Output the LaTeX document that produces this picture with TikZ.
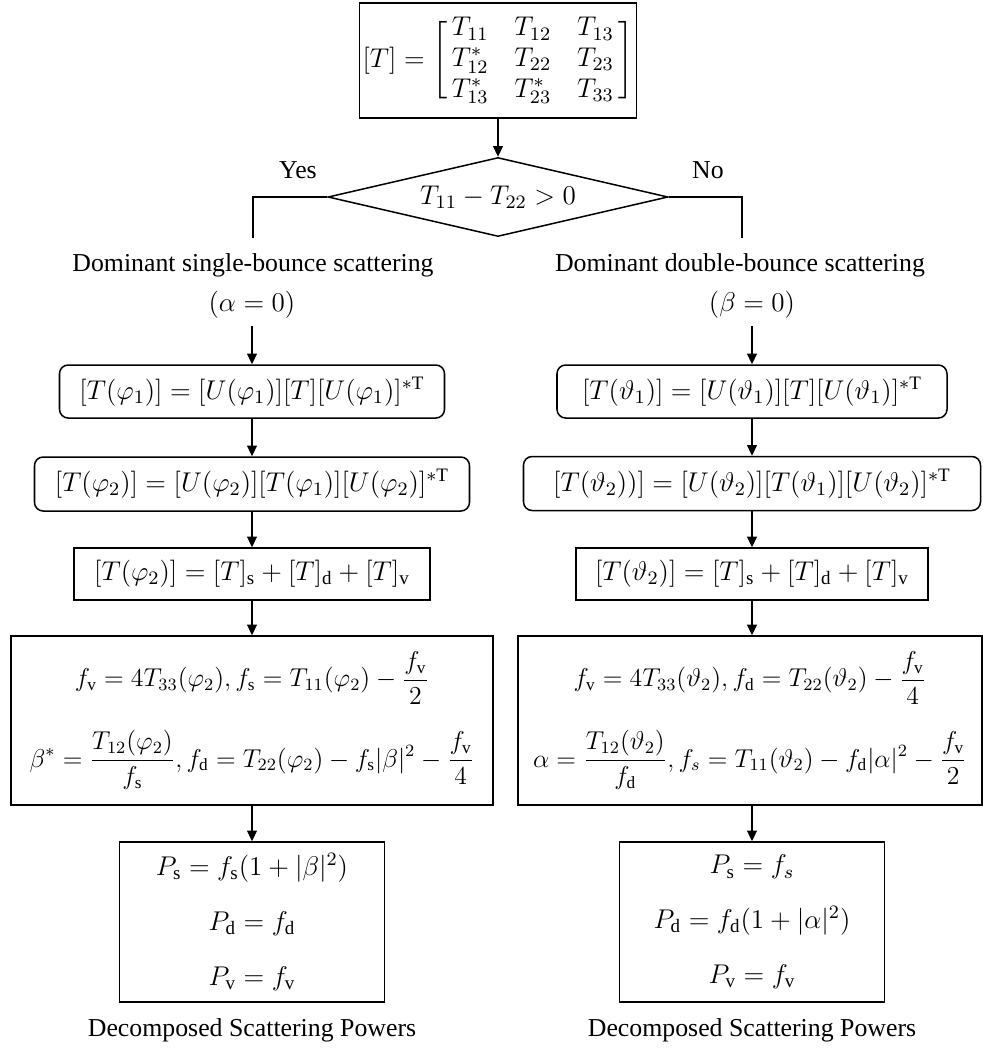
\RequirePackage{fix-cm}
\documentclass[tikz,border=0pt]{standalone}
\usepackage{amsmath}
\usepackage{fontspec}
\setmainfont{Liberation Serif}
\usetikzlibrary{shapes.geometric,arrows.meta}
\newdimen\pxu \pxu=0.465pt
\begin{document}
\begin{tikzpicture}[x=0.465pt,y=-0.465pt,
  every node/.style={font=\fontsize{12}{14.4}\selectfont},
  mth/.style={font=\fontsize{12.6}{15}\selectfont},
  ln/.style={line width=0.7pt},
  box/.style={draw,ln,inner sep=0pt,align=center},
  rbox/.style={box,rounded corners=4pt},
  arr/.style={line width=0.8pt,-{Triangle[length=5pt,width=4.6pt]}}]
\useasboundingbox (0,0) rectangle (983,1048);

\node[box,mth,minimum width=277\pxu,minimum height=115\pxu] (T) at (498,60.5)
  {\setlength\arraycolsep{6pt}\delimiterfactor=800 \delimitershortfall=14pt \renewcommand\arraystretch{0.95}%
   $[T]=\left[\,\begin{matrix} T_{11} & T_{12} & T_{13}\\ T_{12}^* & T_{22} & T_{23}\\ T_{13}^* & T_{23}^* & T_{33}\end{matrix}\,\right]$};

\node[draw,ln,diamond,mth,inner sep=0pt,aspect=4.3,minimum width=340\pxu,minimum height=79\pxu] (D) at (498,197) {$T_{11}-T_{22}>0$};
\node (yes) at (298,170) {Yes};
\node (no) at (708,170) {No};
\coordinate (yl) at (253,238);
\coordinate (nl) at (742,238);
\draw[ln] (D.west) -| (yl);
\draw[ln] (D.east) -| (nl);

\node (s1) at (253,265) {Dominant single-bounce scattering};
\node (s2) at (740,265) {Dominant double-bounce scattering};
\node[mth] (a0) at (252,305) {$(\alpha=0)$};
\node[mth] (b0) at (752,305) {$(\beta=0)$};

% left column
\node[rbox,mth,minimum width=385\pxu,minimum height=53\pxu] (L1) at (252,391.5)
  {$[T(\varphi_1)]=[U(\varphi_1)][T][U(\varphi_1)]^{*\mathrm{T}}$};
\node[rbox,mth,minimum width=435\pxu,minimum height=54\pxu] (L2) at (252,484)
  {$[T(\varphi_2)]=[U(\varphi_2)][T(\varphi_1)][U(\varphi_2)]^{*\mathrm{T}}$};
\node[box,mth,minimum width=356\pxu,minimum height=52\pxu] (L3) at (252,574)
  {$[T(\varphi_2)]=[T]_{\mathrm s}+[T]_{\mathrm d}+[T]_{\mathrm v}$};
\node[box,minimum width=482\pxu,minimum height=169\pxu] (L4) at (252,720.5)
  {$\displaystyle f_{\mathrm v}=4T_{33}(\varphi_2),f_{\mathrm s}=T_{11}(\varphi_2)-\frac{f_{\mathrm v}}{2}$\\[11pt]
   $\displaystyle \beta^*=\frac{T_{12}(\varphi_2)}{f_{\mathrm s}},f_{\mathrm d}=T_{22}(\varphi_2)-f_{\mathrm s}|\beta|^2-\frac{f_{\mathrm v}}{4}$};
\node[box,mth,minimum width=265\pxu,minimum height=160\pxu] (L5) at (252,922)
  {$P_{\mathrm s}=f_{\mathrm s}(1+|\beta|^2)$\\[10.5pt]$P_{\mathrm d}=f_{\mathrm d}$\\[10.5pt]$P_{\mathrm v}=f_{\mathrm v}$};
\node (o1) at (252,1030) {Decomposed Scattering Powers};

% right column
\node[rbox,mth,minimum width=390\pxu,minimum height=53\pxu] (R1) at (752,391.5)
  {$[T(\vartheta_1)]=[U(\vartheta_1)][T][U(\vartheta_1)]^{*\mathrm{T}}$};
\node[rbox,mth,minimum width=457\pxu,minimum height=54\pxu] (R2) at (752,483.5)
  {$[T(\vartheta_2))]=[U(\vartheta_2)][T(\vartheta_1)][U(\vartheta_2)]^{*\mathrm{T}}$};
\node[box,mth,minimum width=352\pxu,minimum height=52\pxu] (R3) at (752,574)
  {$[T(\vartheta_2)]=[T]_{\mathrm s}+[T]_{\mathrm d}+[T]_{\mathrm v}$};
\node[box,minimum width=464\pxu,minimum height=169\pxu] (R4) at (750,720.5)
  {$\displaystyle f_{\mathrm v}=4T_{33}(\vartheta_2),f_{\mathrm d}=T_{22}(\vartheta_2)-\frac{f_{\mathrm v}}{4}$\\[11pt]
   $\displaystyle \alpha=\frac{T_{12}(\vartheta_2)}{f_{\mathrm d}},f_s=T_{11}(\vartheta_2)-f_{\mathrm d}|\alpha|^2-\frac{f_{\mathrm v}}{2}$};
\node[box,mth,minimum width=265\pxu,minimum height=160\pxu] (R5) at (752,922)
  {$P_{\mathrm s}=f_s$\\[10.5pt]$P_{\mathrm d}=f_{\mathrm d}(1+|\alpha|^2)$\\[10.5pt]$P_{\mathrm v}=f_{\mathrm v}$};
\node (o2) at (752,1030) {Decomposed Scattering Powers};

% connectors
\draw[arr] (T) -- (D);
\draw[arr] (a0) -- (L1);
\draw[arr] (L1) -- (L2);
\draw[arr] (L2) -- (L3);
\draw[arr] (L3) -- (L4);
\draw[arr] (L4) -- (L5);
\draw[arr] (b0) -- (R1);
\draw[arr] (R1) -- (R2);
\draw[arr] (R2) -- (R3);
\draw[arr] (R3.south) -- (R3.south |- R4.north);
\draw[arr] (R5.north |- R4.south) -- (R5.north);
\end{tikzpicture}
\end{document}
